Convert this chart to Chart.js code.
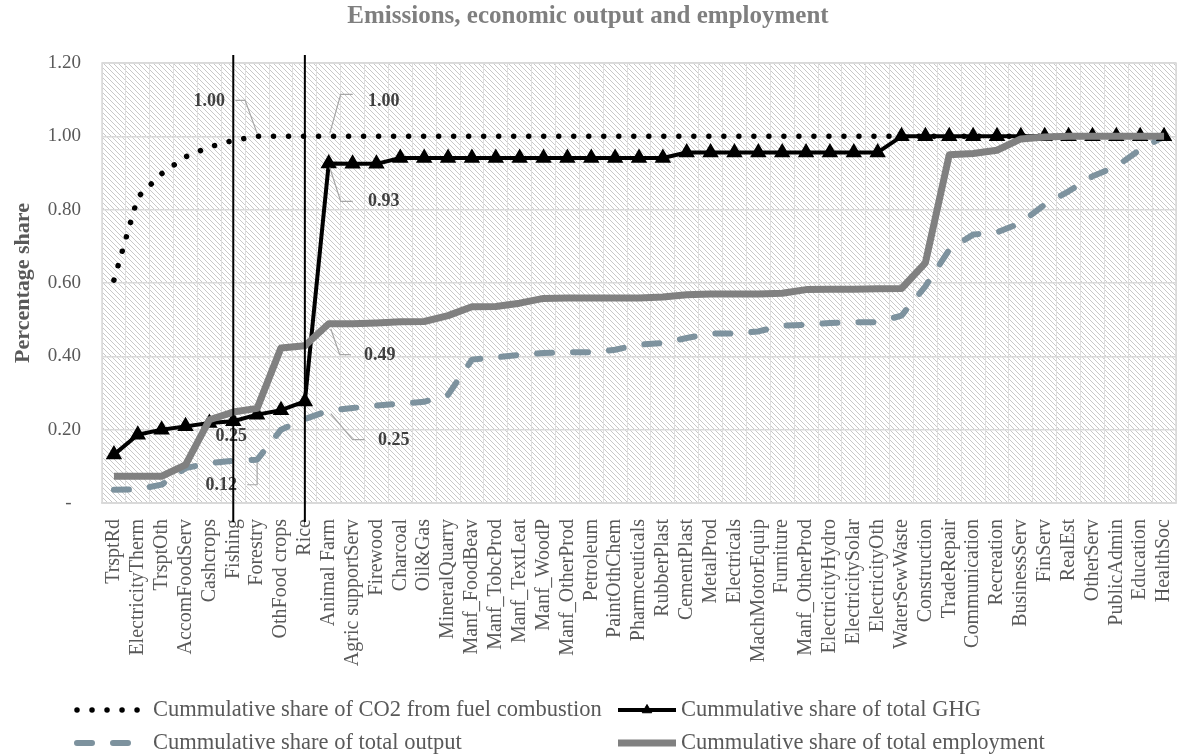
<!DOCTYPE html>
<html>
<head>
<meta charset="utf-8">
<title>Emissions, economic output and employment</title>
<script src="https://cdn.jsdelivr.net/npm/chart.js@4.4.1/dist/chart.umd.min.js"></script>
<style>
    html, body { margin: 0; padding: 0; background: #fff; }
    #chart { display: block; }
</style>
</head>
<body>
<canvas id="chart" width="1180" height="756"></canvas>
<script>
// Sectors in the order they add up to the CO2 share
const sectors = [
    'TrsptRd', 'ElectricityTherm', 'TrsptOth', 'AccomFoodServ', 'Cashcrops', 'Fishing',
    'Forestry', 'OthFood crops', 'Rice', 'Animal Farm', 'Agric supportServ', 'Firewood',
    'Charcoal', 'Oil&Gas', 'MineralQuarry', 'Manf_FoodBeav', 'Manf_TobcProd', 'Manf_TextLeat',
    'Manf_WoodP', 'Manf_OtherProd', 'Petroleum', 'PaintOthChem', 'Pharmceuticals', 'RubberPlast',
    'CementPlast', 'MetalProd', 'Electricals', 'MachMotorEquip', 'Furniture', 'Manf_OtherProd',
    'ElectricityHydro', 'ElectricitySolar', 'ElectricityOth', 'WaterSewWaste', 'Construction',
    'TradeRepair', 'Communication', 'Recreation', 'BusinessServ', 'FinServ', 'RealEst',
    'OtherServ', 'PublicAdmin', 'Education', 'HealthSoc'
];

const co2Share = [
    0.608, 0.834, 0.898, 0.944, 0.971, 0.989, 1.000, 1.000, 1.000, 1.000, 1.000, 1.000,
    1.000, 1.000, 1.000, 1.000, 1.000, 1.000, 1.000, 1.000, 1.000, 1.000, 1.000, 1.000,
    1.000, 1.000, 1.000, 1.000, 1.000, 1.000, 1.000, 1.000, 1.000, 1.000, 1.000, 1.000,
    1.000, 1.000, 1.000, 1.000, 1.000, 1.000, 1.000, 1.000, 1.000
];

const ghgShare = [
    0.132, 0.186, 0.200, 0.209, 0.218, 0.223, 0.241, 0.253, 0.277, 0.926, 0.925, 0.925,
    0.941, 0.941, 0.941, 0.941, 0.941, 0.941, 0.941, 0.941, 0.941, 0.941, 0.941, 0.941,
    0.956, 0.956, 0.956, 0.956, 0.956, 0.956, 0.956, 0.956, 0.956, 1.000, 1.000, 1.000,
    1.000, 1.000, 1.000, 1.000, 1.000, 1.000, 1.000, 1.000, 1.000
];

const outputShare = [
    0.036, 0.037, 0.050, 0.095, 0.109, 0.115, 0.118, 0.200, 0.229, 0.252, 0.259, 0.266,
    0.271, 0.276, 0.295, 0.391, 0.397, 0.404, 0.409, 0.411, 0.411, 0.418, 0.432, 0.436,
    0.450, 0.462, 0.462, 0.468, 0.484, 0.486, 0.491, 0.493, 0.493, 0.511, 0.591, 0.691,
    0.732, 0.738, 0.764, 0.814, 0.850, 0.891, 0.918, 0.964, 1.000
];

const employmentShare = [
    0.073, 0.073, 0.073, 0.104, 0.227, 0.248, 0.258, 0.423, 0.429, 0.489, 0.489, 0.491,
    0.494, 0.495, 0.511, 0.535, 0.536, 0.545, 0.558, 0.559, 0.559, 0.559, 0.559, 0.562,
    0.568, 0.570, 0.570, 0.570, 0.572, 0.582, 0.583, 0.583, 0.584, 0.585, 0.655, 0.950,
    0.953, 0.962, 0.993, 0.998, 1.000, 1.000, 1.000, 1.000, 1.000
];

const yTickLabels = ['-  ', '0.20', '0.40', '0.60', '0.80', '1.00', '1.20'];

// Sectors marked with a vertical divider
const dividerSectors = ['Fishing', 'Rice'];

const FONT = "'Liberation Serif', 'Times New Roman', serif";

// Labelled points: series index, sector, text offset and leader path (relative to the point)
const valueLabels = [
    { series: 0, sector: 'Forestry', text: [-48, -35], leader: [[0, -3], [-12, -36], [-22, -36]] },
    { series: 0, sector: 'Animal Farm', text: [55, -35], leader: [[1, -3], [12, -42], [24, -42]] },
    { series: 1, sector: 'Animal Farm', text: [55, 38], leader: [[1, 4], [12, 38], [24, 38]] },
    { series: 3, sector: 'Animal Farm', text: [51, 32], leader: [[2, 5], [11, 31], [22, 31]] },
    { series: 2, sector: 'Animal Farm', text: [65, 30], leader: [[2, 3], [24, 29], [36, 29]] },
    { series: 3, sector: 'Fishing', text: [-2, 24] },
    { series: 2, sector: 'Forestry', text: [-36, 26], leader: [[0, 3], [0, 25], [-10, 25]] }
];

// Diagonal hatch behind the plot area, plus its thin frame
const hatchPlugin = {
    id: 'hatch',
    beforeDraw(chart) {
        const { ctx, chartArea } = chart;
        const tile = document.createElement('canvas');
        tile.width = 5;
        tile.height = 5;
        const t = tile.getContext('2d');
        t.strokeStyle = '#c8c8c8';
        t.lineWidth = 1;
        t.beginPath();
        for (let k = -1; k <= 1; k++) {
            t.moveTo(k * 5, 0);
            t.lineTo(k * 5 + 5, 5);
        }
        t.stroke();
        ctx.save();
        ctx.fillStyle = ctx.createPattern(tile, 'repeat');
        ctx.fillRect(chartArea.left, chartArea.top, chartArea.width, chartArea.height);
        ctx.restore();
    },
    beforeDatasetsDraw(chart) {
        const { ctx, chartArea } = chart;
        ctx.save();
        ctx.strokeStyle = '#d9d9d9';
        ctx.lineWidth = 1.5;
        ctx.strokeRect(chartArea.left, chartArea.top, chartArea.width, chartArea.height);
        ctx.restore();
    }
};

// Value labels with their leader lines
const labelPlugin = {
    id: 'valueLabels',
    afterDatasetsDraw(chart) {
        const { ctx } = chart;
        ctx.save();
        valueLabels.forEach(label => {
            const index = sectors.indexOf(label.sector);
            const point = chart.getDatasetMeta(label.series).data[index];
            if (label.leader) {
                ctx.strokeStyle = '#a6a6a6';
                ctx.lineWidth = 1.2;
                ctx.setLineDash([]);
                ctx.beginPath();
                label.leader.forEach(([dx, dy], k) => {
                    if (k === 0) ctx.moveTo(point.x + dx, point.y + dy);
                    else ctx.lineTo(point.x + dx, point.y + dy);
                });
                ctx.stroke();
            }
            const value = chart.data.datasets[label.series].data[index];
            ctx.fillStyle = '#404040';
            ctx.font = `bold 18px ${FONT}`;
            ctx.textAlign = 'center';
            ctx.textBaseline = 'middle';
            ctx.fillText(value.toFixed(2), point.x + label.text[0], point.y + label.text[1]);
        });
        ctx.restore();
    }
};

// Vertical divider lines through chosen sectors
const dividerPlugin = {
    id: 'dividers',
    afterDatasetsDraw(chart) {
        const { ctx, chartArea, scales } = chart;
        ctx.save();
        ctx.strokeStyle = '#000';
        ctx.lineWidth = 2;
        dividerSectors.forEach(name => {
            const x = scales.x.getPixelForValue(sectors.indexOf(name));
            ctx.beginPath();
            ctx.moveTo(x, chartArea.top - 8);
            ctx.lineTo(x, chartArea.bottom + 19);
            ctx.stroke();
        });
        ctx.restore();
    }
};

// Two-column legend drawn under the axis labels
const legendPlugin = {
    id: 'gridLegend',
    afterDraw(chart) {
        const { ctx } = chart;
        const columns = [77, 618];
        const rows = [chart.height - 46, chart.height - 13];
        const sampleWidth = [68, 58];
        const slots = [[0, 0, 0], [1, 1, 0], [2, 0, 1], [3, 1, 1]];
        ctx.save();
        slots.forEach(([dsIndex, col, row]) => {
            const ds = chart.data.datasets[dsIndex];
            const x0 = columns[col];
            const x1 = x0 + sampleWidth[col];
            const y = rows[row];
            ctx.strokeStyle = ds.borderColor;
            ctx.lineWidth = ds.borderWidth;
            ctx.lineCap = ds.borderCapStyle || 'butt';
            ctx.setLineDash(ds.borderDash || []);
            ctx.beginPath();
            ctx.moveTo(x0, y);
            ctx.lineTo(x1, y);
            ctx.stroke();
            ctx.setLineDash([]);
            if (ds.pointRadius > 0) {
                ctx.fillStyle = ds.pointBackgroundColor;
                ctx.strokeStyle = ds.pointBorderColor;
                ctx.lineWidth = 1;
                Chart.helpers.drawPoint(ctx, {
                    pointStyle: ds.pointStyle,
                    radius: ds.pointRadius,
                    borderWidth: 1
                }, (x0 + x1) / 2, y);
            }
            ctx.fillStyle = '#595959';
            ctx.font = `22.5px ${FONT}`;
            ctx.textAlign = 'left';
            ctx.textBaseline = 'middle';
            ctx.fillText(ds.label, x1 + (col === 0 ? 8 : 5), y);
        });
        ctx.restore();
    }
};

new Chart(document.getElementById('chart'), {
    type: 'line',
    data: {
        labels: sectors,
        datasets: [
            {
                label: 'Cummulative share of CO2 from fuel combustion',
                data: co2Share,
                borderColor: '#000',
                borderWidth: 5.5,
                borderDash: [0.01, 15],
                borderCapStyle: 'round',
                pointRadius: 0,
                order: 2
            },
            {
                label: 'Cummulative share of total GHG',
                data: ghgShare,
                borderColor: '#000',
                borderWidth: 4,
                borderJoinStyle: 'round',
                pointStyle: 'triangle',
                pointRadius: 5.5,
                pointBackgroundColor: '#000',
                pointBorderColor: '#000',
                order: 1
            },
            {
                label: 'Cummulative share of total output',
                data: outputShare,
                borderColor: '#7d929e',
                borderWidth: 6,
                borderDash: [15, 21],
                borderCapStyle: 'round',
                borderJoinStyle: 'round',
                pointRadius: 0,
                order: 3
            },
            {
                label: 'Cummulative share of total employment',
                data: employmentShare,
                borderColor: '#808080',
                borderWidth: 7,
                borderJoinStyle: 'round',
                pointRadius: 0,
                order: 0
            }
        ]
    },
    options: {
        responsive: false,
        animation: false,
        layout: { autoPadding: false, padding: { left: 0, right: 4, top: 0, bottom: 0 } },
        elements: { line: { tension: 0, fill: false } },
        plugins: {
            legend: { display: false },
            tooltip: { enabled: false },
            title: {
                display: true,
                text: 'Emissions, economic output and employment',
                color: '#7f7f7f',
                font: { family: FONT, size: 25, weight: 'bold' },
                padding: { top: 2, bottom: 31 }
            }
        },
        scales: {
            x: {
                offset: true,
                grid: {
                    color: '#dedede',
                    offset: true,
                    drawTicks: true,
                    tickLength: 16,
                    tickColor: 'rgba(0,0,0,0)',
                    lineWidth: 1
                },
                border: { color: '#d9d9d9', width: 1.5 },
                ticks: {
                    color: '#595959',
                    font: { family: FONT, size: 20 },
                    minRotation: 90,
                    maxRotation: 90,
                    autoSkip: false,
                    padding: 0
                },
                afterFit(scale) {
                    scale.height = 253;
                    scale.paddingLeft = 0;
                    scale.paddingRight = 0;
                }
            },
            y: {
                min: 0,
                max: 1.2,
                grid: { color: '#d9d9d9', drawTicks: false, lineWidth: 1.5 },
                border: { display: false },
                ticks: {
                    stepSize: 0.2,
                    color: '#595959',
                    font: { family: FONT, size: 19 },
                    padding: 21,
                    callback: value => yTickLabels[Math.round(value / 0.2)]
                },
                title: {
                    display: true,
                    text: 'Percentage share',
                    color: '#595959',
                    font: { family: FONT, size: 22, weight: 'bold' },
                    padding: { top: 10, bottom: 0 }
                },
                afterFit(scale) {
                    scale.width = 102;
                }
            }
        }
    },
    plugins: [hatchPlugin, labelPlugin, dividerPlugin, legendPlugin]
});
</script>
</body>
</html>
